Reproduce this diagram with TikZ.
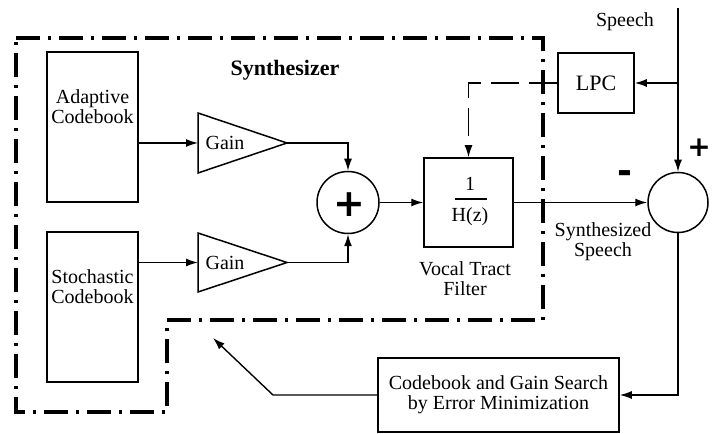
\documentclass[tikz,border=0pt]{standalone}
\usepackage{fontspec}
\setmainfont{Liberation Serif}
\newfontfamily\symfont{DejaVu Sans}
\usetikzlibrary{arrows.meta}
\begin{document}
\begin{tikzpicture}[x=1pt,y=1pt,
  box/.style={draw, line width=1.5pt, inner sep=0pt},
  lbl/.style={font=\fontsize{20}{20}\selectfont, align=center, inner sep=0pt},
  sym/.style={font=\symfont\bfseries\fontsize{#1}{#1}\selectfont, inner sep=0pt},
  wire/.style={line width=1.4pt},
  conn/.style={wire, -{Latex[length=12pt,width=8pt]}},
  border/.style={line width=4.5pt, dash pattern=on 24pt off 8pt on 3pt off 8pt},
  ]
\useasboundingbox (0,0) rectangle (713,434);

% synthesizer border
\draw[border] (16,396) -- (543,396) -- (543,114) -- (167,114) -- (167,22) -- (16,22) -- cycle;
\node[font=\fontsize{22}{22}\selectfont\bfseries, inner sep=0pt] (syn) at (285,364) {Synthesizer};

% codebooks
\node[box, minimum width=91pt, minimum height=150pt] (adapt) at (92.5,307) {};
\node[lbl] (adaptT) at (92.5,327) {Adaptive\\Codebook};
\node[box, minimum width=91pt, minimum height=150pt] (stoch) at (92.5,127) {};
\node[lbl] (stochT) at (92.5,147) {Stochastic\\Codebook};

% gains
\coordinate (g1in) at (198,291); \coordinate (g1out) at (287,291);
\draw[box, line join=miter] (198,321) -- (g1out) -- (198,261) -- cycle;
\node[lbl] (g1) at (225,291) {Gain};
\coordinate (g2in) at (198,171.5); \coordinate (g2out) at (287,171.5);
\draw[box, line join=miter] (198,201) -- (g2out) -- (198,142) -- cycle;
\node[lbl] (g2) at (225,171.5) {Gain};

\draw[conn] (adapt.east |- g1in) -- (g1in);
\draw[conn] (stoch.east |- g2in) -- (g2in);

% summer
\node[box, circle, minimum size=62pt] (sum) at (348,231.5) {};
\node[sym=38] (plus) at (349,229) {+};
\draw[conn] (g1out) -| (sum.north);
\draw[conn] (g2out) -| (sum.south);

% vocal tract filter
\node[box, minimum width=89pt, minimum height=89pt] (hz) at (468.5,231.5) {};
\node[lbl] (one) at (470,250) {1};
\node[lbl] (hzt) at (470,217) {H(z)};
\draw[line width=1.3pt] (455,235) -- (487,235);
\node[lbl] (vtf) at (465,155) {Vocal Tract\\Filter};
\draw[conn] (sum.east) -- (hz.west);

% LPC
\node[box, lbl, font=\fontsize{22}{22}\selectfont, minimum width=76pt, minimum height=60pt] (lpc) at (596,351) {LPC};
\draw[wire, dash pattern=on 28pt off 10pt, -{Latex[length=12pt,width=8pt]}] (lpc.west) -- (hz.north |- lpc.west) -- (hz.north);

% speech input and error
\coordinate (top) at (678,426);
\node[lbl] (speech) at (625,412) {Speech};
\node[box, circle, minimum size=60pt] (err) at (678,231.5) {};
\draw[conn] (top) -- (err.north);
\draw[conn] (err.north |- lpc.east) -- (lpc.east);
\draw[conn] (hz.east) -- (err.west);
\node[sym=28] (pl) at (699,286) {+};
\node[sym=36] (mi) at (625,257) {-};
\node[lbl] (synsp) at (603,192) {Synthesized\\Speech};

% codebook search
\node[box, lbl, minimum width=241pt, minimum height=74pt] (cb) at (498.5,39) {Codebook and Gain Search\\by Error Minimization};
\draw[conn] (err.south) |- (cb.east);
\coordinate (fbk) at (273,39);
\coordinate (fbtip) at (213,96);
\draw[conn] (cb.west) -- (fbk) -- (fbtip);
\end{tikzpicture}
\end{document}
